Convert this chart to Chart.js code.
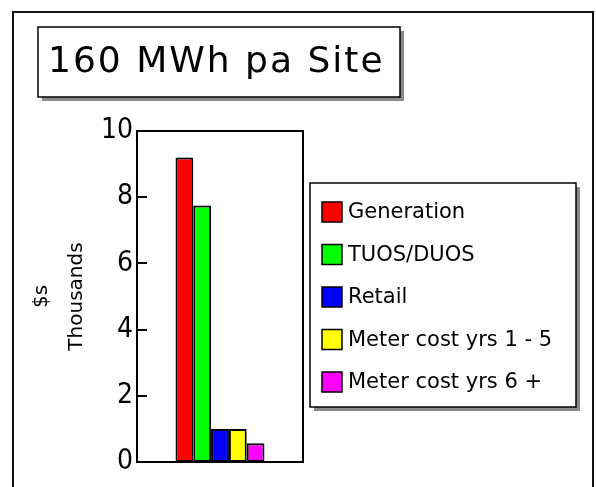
<!DOCTYPE html>
<html>
<head>
<meta charset="utf-8">
<title>160 MWh pa Site</title>
<script src="https://cdn.jsdelivr.net/npm/chart.js@4/dist/chart.umd.min.js"></script>
<style>
  html, body { margin: 0; padding: 0; background: #fff; }
  #wrap { width: 596px; height: 487px; }
</style>
</head>
<body>
<div id="wrap"><canvas id="chart" width="596" height="487"></canvas></div>
<script>
// data
const chartTitle = '160 MWh pa Site';
const categories = [''];
const seriesNames = ['Generation', 'TUOS/DUOS', 'Retail', 'Meter cost yrs 1 - 5', 'Meter cost yrs 6 +'];
const seriesValues = [9.2, 7.75, 1.0, 1.0, 0.57];
const seriesColors = ['#ff0000', '#00ff00', '#0000ff', '#ffff00', '#ff00ff'];
const yTicks = [0, 2, 4, 6, 8, 10];
const yTitle = ['$s', 'Thousands'];

const datasets = seriesNames.map((name, i) => ({
    label: name,
    data: [seriesValues[i]],
    backgroundColor: seriesColors[i],
    borderColor: '#000',
    borderWidth: 2,
    borderSkipped: false,
    barPercentage: 1,
    categoryPercentage: 0.536
}));

// box with grey drop shadow, used for title and legend
function shadowBox(ctx, x, y, w, h) {
    ctx.save();
    ctx.fillStyle = '#8a8a8a';
    ctx.fillRect(x + 4, y + 4, w, h);
    ctx.fillStyle = '#fff';
    ctx.fillRect(x, y, w, h);
    ctx.strokeStyle = '#000';
    ctx.lineWidth = 1.5;
    ctx.strokeRect(x, y, w, h);
    ctx.restore();
}

const decor = {
    id: 'decor',
    beforeDraw(chart) {
        const ctx = chart.ctx;
        ctx.save();
        ctx.fillStyle = '#fff';
        ctx.fillRect(0, 0, chart.width, chart.height);
        // outer frame
        ctx.strokeStyle = '#111';
        ctx.lineWidth = 2;
        ctx.strokeRect(13, 12, 580, 500);
        ctx.restore();
    },
    afterDatasetsDraw(chart) {
        const ctx = chart.ctx;
        const a = chart.chartArea;
        const y = chart.scales.y;
        ctx.save();
        ctx.strokeStyle = '#000';
        ctx.lineWidth = 2;
        ctx.strokeRect(a.left, a.top, a.right - a.left, a.bottom - a.top);
        // tick marks point inwards
        ctx.beginPath();
        yTicks.forEach(v => {
            const py = Math.round(y.getPixelForValue(v));
            ctx.moveTo(a.left, py);
            ctx.lineTo(a.left + 10, py);
        });
        ctx.stroke();
        ctx.restore();
    },
    afterDraw(chart) {
        const ctx = chart.ctx;
        ctx.save();
        // title
        shadowBox(ctx, 38, 27, 362, 70);
        ctx.fillStyle = '#000';
        ctx.font = '36px "DejaVu Sans"';
        ctx.letterSpacing = '2px';
        ctx.textBaseline = 'alphabetic';
        ctx.textAlign = 'left';
        ctx.fillText(chartTitle, 48, 72);
        ctx.letterSpacing = '0px';

        // legend
        shadowBox(ctx, 310, 183, 266, 224);
        ctx.font = '21px "DejaVu Sans"';
        ctx.textBaseline = 'middle';
        chart.data.datasets.forEach((ds, i) => {
            const cy = 212 + i * 42.5;
            ctx.fillStyle = ds.backgroundColor;
            ctx.fillRect(322, cy - 10, 20, 20);
            ctx.strokeStyle = '#000';
            ctx.lineWidth = 1.5;
            ctx.strokeRect(322, cy - 10, 20, 20);
            ctx.fillStyle = '#000';
            ctx.fillText(ds.label, 348, cy + 1);
        });
        ctx.restore();
    }
};

new Chart(document.getElementById('chart'), {
    type: 'bar',
    data: { labels: categories, datasets: datasets },
    options: {
        responsive: false,
        animation: false,
        devicePixelRatio: 1,
        layout: { padding: { left: 14, top: 131, right: 293, bottom: 25 } },
        plugins: { legend: { display: false }, title: { display: false }, tooltip: { enabled: false } },
        scales: {
            x: { display: false },
            y: {
                min: 0,
                max: 10,
                afterFit: (s) => { s.width = 123; },
                afterBuildTicks: (s) => { s.ticks = yTicks.map(v => ({ value: v })); },
                border: { display: false },
                grid: { display: false, drawTicks: false },
                ticks: {
                    color: '#000',
                    padding: 4,
                    font: { family: '"Liberation Sans Narrow", "DejaVu Sans Condensed", sans-serif', size: 28 }
                },
                title: {
                    display: true,
                    text: yTitle,
                    color: '#000',
                    padding: { top: 10, bottom: 0 },
                    font: { family: '"DejaVu Sans"', size: 20, lineHeight: 1.75 }
                }
            }
        }
    },
    plugins: [decor]
});
</script>
</body>
</html>
